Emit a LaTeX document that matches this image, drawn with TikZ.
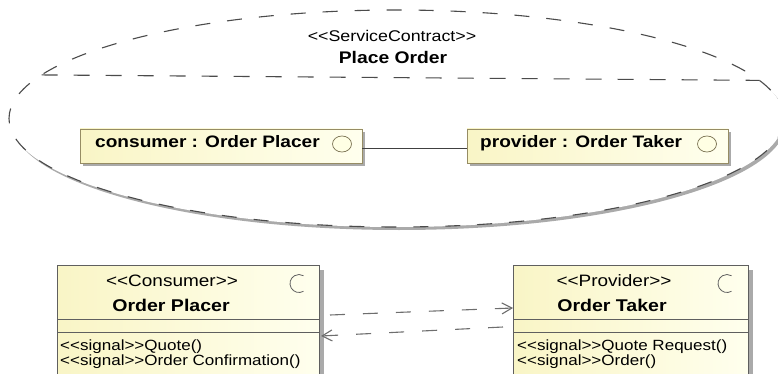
\documentclass[tikz,border=0pt]{standalone}
\usepackage{fontspec}
\setmainfont{Liberation Sans}[FakeStretch=1.15]
\usetikzlibrary{shapes.geometric,arrows.meta}
\definecolor{boxL}{RGB}{249,245,198}
\definecolor{boxR}{RGB}{255,255,238}
\definecolor{partborder}{RGB}{150,140,100}
\definecolor{classborder}{RGB}{95,95,95}
\definecolor{dashgray}{RGB}{75,75,75}
\definecolor{arrgray}{RGB}{110,110,110}
\definecolor{shadowgray}{RGB}{170,170,170}
\definecolor{iconfill}{RGB}{255,255,228}
\newcommand{\fsz}[1]{\fontsize{#1}{#1}\selectfont}
\newcommand{\stL}{\textless\kern0pt\textless\kern0pt}
\newcommand{\stR}{\kern0pt\textgreater\kern0pt\textgreater}
\begin{document}
\begin{tikzpicture}[x=1pt,y=-1pt,
  contract/.style={ellipse, draw=dashgray, line width=1.1pt, dash pattern=on 15pt off 17pt,
    fill=white, minimum width=775pt, minimum height=217pt, inner sep=0pt, outer sep=0pt},
  sepline/.style={draw=dashgray, line width=1.1pt, dash pattern=on 16pt off 16pt},
  partbox/.style={rectangle, draw=partborder, line width=0.9pt, left color=boxL, right color=boxR,
    inner sep=0pt, outer sep=0pt, anchor=north west},
  classbox/.style={rectangle, draw=classborder, line width=0.9pt, left color=boxL, right color=boxR,
    inner sep=0pt, outer sep=0pt, anchor=north west},
  shadowfill/.style={fill=shadowgray},
  icon/.style={draw=partborder!80!black, line width=0.7pt, fill=iconfill},
  crescent/.style={draw=classborder, line width=0.8pt},
  partlabel/.style={anchor=base west, inner sep=0pt, font=\fsz{16.6}\bfseries},
  stereo/.style={anchor=base, inner sep=0pt, font=\fsz{16.5}},
  cname/.style={anchor=base, inner sep=0pt, font=\fsz{17}\bfseries},
  oper/.style={anchor=base west, inner sep=0pt, font=\fsz{14.8}},
  dep/.style={draw=arrgray, line width=1.1pt, dash pattern=on 15pt off 18pt,
    -{Straight Barb[length=10pt,width=11pt]}},
  link/.style={draw=black!75, line width=0.8pt}
]
\useasboundingbox (0,0) rectangle (778,374);
\clip (0,0) rectangle (778,374);

% service contract ellipse with shadow
\fill[shadowfill] (399,121.5) ellipse [x radius=387.5, y radius=108.5];
\node[contract] (sc) at (396.5,118.5) {};
\draw[sepline] (sc.173.2) -- (sc.6.8);
\node[stereo, font=\fsz{15.5}] (scS) at (392,42) {\stL ServiceContract\stR};
\node[cname, font=\fsz{16.8}\bfseries] (scN) at (393,64) {Place Order};

% parts
\fill[shadowfill] (83,132) rectangle (365,166);
\fill[shadowfill] (470,132) rectangle (731,166);
\node[partbox, minimum width=282pt, minimum height=34pt] (cons) at (80,129) {};
\node[partbox, minimum width=261pt, minimum height=34pt] (prov) at (467,129) {};
\node[partlabel] (consL) at (95,148) {consumer : Order Placer};
\node[partlabel] (provL) at (480,148) {provider : Order Taker};
\draw[icon] (342,144) ellipse [x radius=9.5, y radius=8];
\draw[icon] (707,144) ellipse [x radius=9.5, y radius=8];
\draw[link] ([yshift=-2pt]cons.east) -- ([yshift=-2pt]prov.west);

% classes
\fill[shadowfill] (319,270) rectangle (324,400);
\fill[shadowfill] (748,270) rectangle (753,400);
\node[classbox, minimum width=262pt, minimum height=130pt] (op) at (57,265) {};
\node[classbox, minimum width=235pt, minimum height=130pt] (ot) at (513,265) {};
\draw[classborder, line width=0.9pt] (57,319) -- (319,319) (57,332) -- (319,332);
\draw[classborder, line width=0.9pt] (513,319) -- (748,319) (513,332) -- (748,332);
\draw[crescent] (303.5,291.3) arc [start angle=60, end angle=300, radius=9];
\draw[crescent] (731.5,291.3) arc [start angle=60, end angle=300, radius=9];

\node[stereo] (opS) at (172,286) {\stL Consumer\stR};
\node[cname] (opN) at (171,311) {Order Placer};
\node[oper] (op1) at (60,350) {\stL signal\stR Quote()};
\node[oper] (op2) at (60,365) {\stL signal\stR Order Confirmation()};

\node[stereo] (otS) at (614,286) {\stL Provider\stR};
\node[cname] (otN) at (612,311) {Order Taker};
\node[oper] (ot1) at (517,350) {\stL signal\stR Quote Request()};
\node[oper] (ot2) at (517,365) {\stL signal\stR Order()};

% dependencies
\coordinate (a1s) at (330,315);
\coordinate (a2s) at (503,327);
\draw[dep] (a1s) -- ([yshift=-43pt]ot.north west);
\draw[dep] (a2s) -- ([xshift=2pt,yshift=-71pt]op.north east);
\end{tikzpicture}
\end{document}
